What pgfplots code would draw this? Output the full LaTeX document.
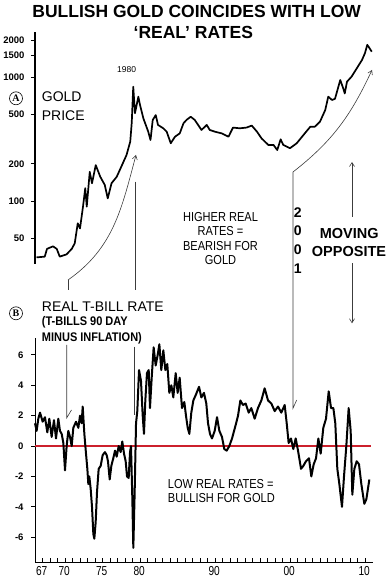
\documentclass[border=0pt]{standalone}
\usepackage{fontspec}
\setmainfont{Liberation Sans}
\newfontfamily\narrowfont[FakeStretch=0.85]{Liberation Sans}
\newfontfamily\boldnarrow[FakeStretch=0.88]{Liberation Sans}
\newfontfamily\tickfont[FakeStretch=0.78]{Liberation Sans}
\newfontfamily\seriffont{Liberation Serif}
\usepackage{pgfplots}
\usepackage{pgfplotstable}
\pgfplotsset{compat=1.18}
\usetikzlibrary{arrows.meta}
\definecolor{zerored}{RGB}{204,32,44}
\definecolor{annot}{RGB}{60,60,60}

\pgfplotstableread{
yr gold
1967.2 35
1968.3 35.5
1968.6 41
1969.4 43
1969.9 41
1970.3 35.5
1971.2 37
1971.9 41
1972.3 45.5
1972.7 66
1973.0 60
1973.4 90
1973.7 127
1973.9 90
1974.3 172
1974.6 139
1975.1 195
1975.7 157
1976.3 135
1976.7 105
1977.2 139
1977.9 157
1978.6 195
1979.2 235
1979.7 302
1979.9 430
1980.1 840
1980.33 512
1980.78 697
1981.0 597
1981.44 467
1982.1 363
1982.4 311
1982.7 452
1983.1 495
1983.4 412
1984.1 387
1984.56 363
1985.1 293
1985.67 331
1986.3 352
1986.8 425
1987.2 452
1987.76 480
1988.3 452
1989.2 375
1989.9 412
1990.3 375
1991.0 363
1991.9 352
1992.8 331
1993.4 392
1994.3 387
1995.2 392
1995.9 407
1996.6 363
1997.2 321
1998.1 284
1998.8 284
1999.3 258
1999.75 315
2000.1 284
2001.0 267
2001.9 293
2002.8 342
2003.7 398
2004.3 398
2005.0 438
2005.7 544
2006.1 697
2006.6 655
2007.0 670
2007.7 950
2008.1 813
2008.3 740
2008.6 922
2009.2 1010
2009.9 1180
2010.6 1380
2011.0 1570
2011.3 1830
2011.6 1720
2011.9 1610
}\goldtable

\pgfplotstableread{
yr rate
1967.00 1.5
1967.22 1.0
1967.44 1.8
1967.67 2.2
1968.02 1.6
1968.33 1.9
1968.64 0.9
1968.91 1.8
1969.22 0.6
1969.53 1.7
1969.80 0.5
1970.11 1.8
1970.33 1.0
1970.56 0.8
1970.78 0.2
1971.00 -1.6
1971.22 0.0
1971.44 1.0
1971.67 0.6
1971.89 0.0
1972.11 1.2
1972.47 1.6
1972.78 1.2
1973.00 2.0
1973.22 1.5
1973.36 2.6
1973.58 0.8
1973.80 -0.5
1973.98 -1.5
1974.11 -2.5
1974.24 -2.0
1974.42 -2.8
1974.60 -4.0
1974.78 -5.8
1974.91 -6.1
1975.09 -5.0
1975.27 -3.0
1975.49 -1.5
1975.76 -1.3
1976.02 -0.6
1976.33 -0.4
1976.56 -0.6
1976.73 -1.0
1976.96 -2.2
1977.18 -1.3
1977.44 -0.8
1977.67 -0.3
1977.89 -0.7
1978.16 0.0
1978.42 -0.4
1978.64 0.3
1978.87 -0.5
1979.09 -1.0
1979.27 -2.0
1979.49 -2.1
1979.67 -0.4
1979.80 0.0
1979.98 -3.5
1980.11 -6.7
1980.29 -3.0
1980.47 1.5
1980.64 2.3
1980.87 5.0
1981.13 4.3
1981.36 2.0
1981.53 0.8
1981.71 3.0
1981.93 4.8
1982.16 5.0
1982.33 2.5
1982.56 4.5
1982.82 6.5
1983.09 5.3
1983.36 6.0
1983.58 6.7
1983.84 5.0
1984.11 6.3
1984.38 5.0
1984.64 5.4
1984.91 3.5
1985.18 4.0
1985.44 3.2
1985.76 4.8
1986.02 3.5
1986.29 4.5
1986.60 2.5
1986.91 2.9
1987.13 2.0
1987.36 1.2
1987.58 0.8
1987.84 2.2
1988.11 3.0
1988.47 3.4
1988.87 3.9
1989.18 3.2
1989.53 3.5
1989.84 2.8
1990.07 1.5
1990.33 0.8
1990.60 0.5
1990.96 1.0
1991.27 1.9
1991.58 1.0
1991.93 0.6
1992.24 -0.2
1992.56 -0.3
1992.91 0.0
1993.27 0.5
1993.71 1.3
1994.07 2.0
1994.38 3.0
1994.73 2.7
1995.09 2.8
1995.49 2.2
1995.84 2.5
1996.29 1.8
1996.73 2.5
1997.18 3.0
1997.62 3.8
1998.07 3.0
1998.51 2.8
1998.96 2.3
1999.40 2.6
1999.84 2.2
2000.29 2.7
2000.56 1.5
2000.82 0.2
2001.13 0.5
2001.44 -0.2
2001.76 0.5
2002.07 -0.3
2002.47 -1.5
2002.78 -1.3
2003.13 -1.0
2003.53 -0.8
2003.84 -2.0
2004.16 -1.2
2004.47 -0.8
2004.78 0.5
2005.09 -0.5
2005.44 1.2
2005.80 1.8
2006.16 3.6
2006.47 2.5
2006.78 2.5
2007.04 1.5
2007.31 -1.5
2007.58 -2.5
2007.93 -4.0
2008.20 -2.0
2008.51 0.0
2008.82 2.5
2009.09 1.0
2009.31 -3.2
2009.58 -1.5
2009.89 -1.0
2010.20 -1.2
2010.51 -2.5
2010.91 -3.8
2011.18 -3.5
2011.58 -2.2
}\ratetable

\begin{document}
\begin{tikzpicture}
\path[use as bounding box] (0pt,0pt) rectangle (389pt,581pt);

% ---------- top panel: gold price ----------
\begin{axis}[
  at={(35pt,317pt)}, anchor=south west,
  scale only axis, width=337.5pt, height=232pt,
  xmin=1967, xmax=2012,
  ymode=log, ymin=30.95, ymax=2323,
  axis x line=none, axis y line=left,
  axis line style={-, line width=1.6pt},
  xtick=\empty,
  ytick={50,100,200,500,1000,1500,2000},
  yticklabels={50,100,200,500,1000,1500,2000},
  tick align=outside, major tick length=4pt,
  ytick style={line width=0.8pt, black},
  yticklabel style={font=\bfseries\fontsize{9.5}{10}\selectfont, xshift=-3pt},
  clip=false,
]
\addplot[black, line width=1.7pt, line join=round] table[x=yr, y=gold] {\goldtable};
\end{axis}

% ---------- bottom panel: real T-bill rate ----------
\begin{axis}[
  at={(35pt,19pt)}, anchor=south west,
  scale only axis, width=337.5pt, height=224pt,
  xmin=1967, xmax=2012, ymin=-7.63, ymax=7.11,
  axis x line=bottom, axis y line=left,
  axis line style={-, line width=0.9pt},
  xtick={1967,1970,1975,1980,1990,2000,2010},
  xticklabels={67,70,75,80,90,00,10},
  minor xtick={1968,...,2011},
  ytick={-6,-4,...,6},
  xtick align=inside, ytick align=outside,
  major tick length=4pt, minor tick length=4pt,
  every tick/.style={line width=0.8pt, black},
  /pgf/number format/assume math mode=true,
  yticklabel style={font=\bfseries\fontsize{9.5}{10}\selectfont, xshift=-4pt},
  xticklabel style={font=\tickfont\fontsize{13}{13}\selectfont, anchor=north west, xshift=-2.5pt, yshift=-1pt},
  clip=false,
]
\addplot[zerored, line width=2.4pt] coordinates {(1967,0) (2011.8,0)};
\addplot[black, line width=2pt, line join=round] table[x=yr, y=rate] {\ratetable};
\end{axis}

\begin{scope}[x=1pt,y=1pt]
% ---------- titles and labels ----------
\node[anchor=base, inner sep=0, font=\bfseries\fontsize{17.5}{18}\selectfont] at (196.7,563) {BULLISH GOLD COINCIDES WITH LOW};
\node[anchor=base, inner sep=0, font=\bfseries\fontsize{17.5}{18}\selectfont] at (193.3,542) {‘REAL’ RATES};

\node[anchor=base, inner sep=0, font=\fontsize{8.5}{9}\selectfont] at (126.7,508.3) {1980};

\draw[line width=0.6pt] (16,482.7) circle (6.5);
\node[inner sep=0, font=\seriffont\bfseries\fontsize{10}{10}\selectfont] at (16,482.7) {A};
\node[anchor=base west, inner sep=0, font=\fontsize{14}{14}\selectfont] at (41.7,479.3) {GOLD};
\node[anchor=base west, inner sep=0, font=\fontsize{14}{14}\selectfont] at (41.7,460.3) {PRICE};

\draw[line width=0.6pt] (16,267.7) circle (6.5);
\node[inner sep=0, font=\seriffont\bfseries\fontsize{10}{10}\selectfont] at (16,267.7) {B};
\node[anchor=base west, inner sep=0, font=\fontsize{14}{14}\selectfont] at (41.7,269.3) {REAL T-BILL RATE};
\node[anchor=base west, inner sep=0, font=\boldnarrow\bfseries\fontsize{12.5}{13}\selectfont] at (41.7,255) {(T-BILLS 90 DAY};
\node[anchor=base west, inner sep=0, font=\boldnarrow\bfseries\fontsize{12.5}{13}\selectfont] at (41.7,239.3) {MINUS INFLATION)};

\foreach \t/\yy in {HIGHER REAL/359.3, RATES =/345, BEARISH FOR/330.3, GOLD/316}
  \node[anchor=base, inner sep=0, font=\narrowfont\fontsize{13}{13}\selectfont] at (220.5,\yy) {\t};

\foreach \t/\yy in {2/363.7, 0/345, 0/326, 1/307.7}
  \node[anchor=base, inner sep=0, font=\bfseries\fontsize{14}{14}\selectfont] at (297.7,\yy) {\t};

\node[anchor=base, inner sep=0, font=\bfseries\fontsize{14.5}{15}\selectfont] at (349.2,342.7) {MOVING};
\node[anchor=base, inner sep=0, font=\bfseries\fontsize{14.5}{15}\selectfont] at (349,324.3) {OPPOSITE};

\node[anchor=base west, inner sep=0, font=\narrowfont\fontsize{13}{13}\selectfont] at (167.7,92.7) {LOW REAL RATES =};
\node[anchor=base west, inner sep=0, font=\narrowfont\fontsize{13}{13}\selectfont] at (167.7,78.3) {BULLISH FOR GOLD};

% ---------- annotation lines and arrows ----------
\begin{scope}[annot, line width=0.6pt]
\draw[-{Straight Barb[length=4pt,width=5pt]}] (352,364.3) -- (352,419);
\draw[-{Straight Barb[length=4pt,width=5pt]}] (352,317.7) -- (352,257.7);
\draw[-{Straight Barb[length=4pt,width=5pt]}] (68,301) to[out=35,in=255] (136,426);
\draw[-{Straight Barb[length=4pt,width=5pt]}] (293,409) to[out=38,in=245] (372,511);
\draw (68,301) -- (68,291);
\draw (66.7,236) -- (66.7,163) -- (71.5,171);
\draw (135.7,399.3) -- (135.7,291);
\draw (134.3,234.3) -- (134.3,166);
\draw (293,409) -- (293,172.7) -- (296.7,181);
\end{scope}
\end{scope}
\end{tikzpicture}
\end{document}
